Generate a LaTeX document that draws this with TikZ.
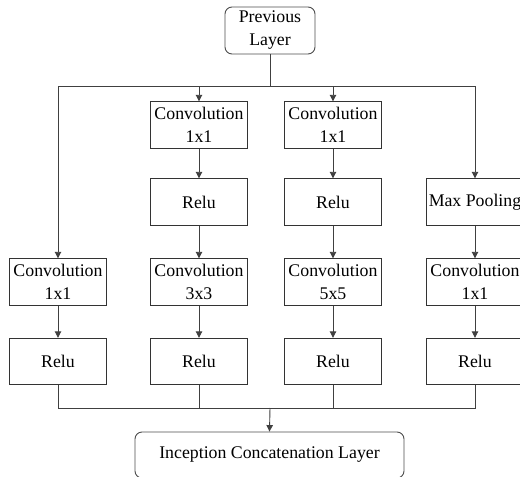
\documentclass[tikz,border=0pt]{standalone}
\usepackage{fontspec}
\setmainfont{Liberation Serif}
\usetikzlibrary{arrows.meta}
\begin{document}
\begin{tikzpicture}[x=1pt,y=-1pt,
  every node/.style={font=\fontsize{17.8}{23}\selectfont, text=black},
  block/.style={draw=black!80, line width=0.9pt, minimum width=97pt, minimum height=46.5pt, align=center, inner sep=0pt},
  endbox/.style={block, draw=black!70, rounded corners=7pt},
  link/.style={draw=black!75, line width=0.9pt},
  arr/.style={link, -{Triangle[width=6.5pt,length=6.5pt]}}]
\useasboundingbox (0,0) rectangle (520,477);
\clip (0,0) rectangle (520,477);

% input and output layers
\node[endbox, minimum width=90pt, minimum height=47pt] (prev) at (270,30.5) {Previous\\Layer};
\node[endbox, minimum width=269pt, minimum height=46pt] (cat) at (269.5,455) {Inception Concatenation Layer};

% branch 1
\node[block] (a3) at (58,282) {Convolution\\1x1};
\node[block] (a4) at (58,361.5) {Relu};
% branch 2
\node[block] (b1) at (199,125) {Convolution\\1x1};
\node[block] (b2) at (199,202) {Relu};
\node[block] (b3) at (199,282) {Convolution\\3x3};
\node[block] (b4) at (199,361.5) {Relu};
% branch 3
\node[block] (c1) at (333,125) {Convolution\\1x1};
\node[block] (c2) at (333,202) {Relu};
\node[block] (c3) at (333,282) {Convolution\\5x5};
\node[block] (c4) at (333,361.5) {Relu};
% branch 4
\node[block] (d2) at (475,202) {Max Pooling};
\node[block] (d3) at (475,282) {Convolution\\1x1};
\node[block] (d4) at (475,361.5) {Relu};

% split and merge points
\coordinate (split) at (270,86);
\coordinate (merge) at (270,408);

\draw[link] (prev) -- (split);
\draw[arr] (split) -| (a3.north);
\draw[arr] (split) -| (b1.north);
\draw[arr] (split) -| (c1.north);
\draw[arr] (split) -| (d2.north);

\draw[arr] (a3) -- (a4);
\draw[arr] (b1) -- (b2);
\draw[arr] (b2) -- (b3);
\draw[arr] (b3) -- (b4);
\draw[arr] (c1) -- (c2);
\draw[arr] (c2) -- (c3);
\draw[arr] (c3) -- (c4);
\draw[arr] (d2) -- (d3);
\draw[arr] (d3) -- (d4);

\draw[link] (a4.south) |- (merge);
\draw[link] (b4.south) |- (merge);
\draw[link] (c4.south) |- (merge);
\draw[link] (d4.south) |- (merge);
\draw[arr] (merge) -- (cat.north);
\end{tikzpicture}
\end{document}
